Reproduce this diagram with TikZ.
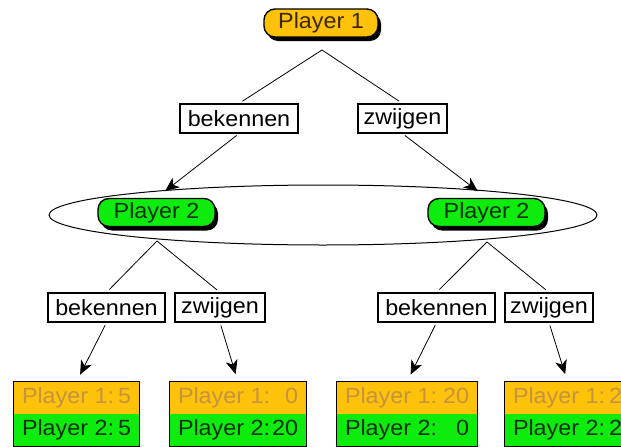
\documentclass[tikz,border=0pt]{standalone}
\usepackage{fontspec}
\setmainfont[FakeStretch=1.06]{Liberation Sans}
\usetikzlibrary{arrows.meta,shadows,shapes.geometric}

\definecolor{oneyellow}{RGB}{255,194,10}
\definecolor{twogreen}{RGB}{14,236,14}
\definecolor{onetext}{RGB}{60,40,0}
\definecolor{twotext}{RGB}{8,48,8}
\definecolor{payonetext}{RGB}{196,148,62}

% one line of a payoff box: label left, value flush right
\newcommand\payline[3]{\hbox to #1{#2\hfill #3}}

\begin{document}
\begin{tikzpicture}[x=1pt,y=-1pt,
  every node/.style={font=\fontsize{22}{25}\selectfont},
  player/.style={draw=black, line width=1.4pt, rounded corners=11pt,
    minimum height=28pt, inner sep=0pt,
    drop shadow={shadow xshift=3pt, shadow yshift=-4pt, fill=black, opacity=1}},
  firstplayer/.style={player, fill=oneyellow, text=onetext, minimum width=114pt},
  secondplayer/.style={player, fill=twogreen, text=twotext, minimum width=117pt},
  movebox/.style={draw=black, line width=1.2pt, fill=white,
    minimum height=29pt, inner sep=0pt},
  link/.style={line width=0.8pt},
  arrowlink/.style={link, -{Stealth[length=14pt,width=12pt,inset=4pt]}},
  payrow/.style={inner sep=0pt, minimum height=32pt},
  payone/.style={payrow, fill=oneyellow, text=payonetext},
  paytwo/.style={payrow, fill=twogreen, text=twotext},
  payframe/.style={draw=black, line width=1.2pt},
  infoset/.style={draw=black, line width=1pt, ellipse, inner sep=0pt}
]
\clip (0,0) rectangle (621,447);
\useasboundingbox (0,0) rectangle (621,447);

% information set of player 2
\node[infoset, minimum width=548pt, minimum height=60pt] (info) at (323,215) {};

% decision nodes
\node[firstplayer] (p1) at (321,23) {Player 1};
\node[secondplayer] (p2l) at (156.5,212.5) {Player 2};
\node[secondplayer] (p2r) at (486.5,212.5) {Player 2};

% moves of player 1
\node[movebox, minimum width=118pt] (m1b) at (239,118.5) {bekennen};
\node[movebox, minimum width=89pt]  (m1z) at (402.5,118.5) {zwijgen};

% moves of player 2
\node[movebox, minimum width=117pt] (mlb) at (106.5,307.5) {bekennen};
\node[movebox, minimum width=90pt]  (mlz) at (220,307.5) {zwijgen};
\node[movebox, minimum width=117pt] (mrb) at (436.5,307.5) {bekennen};
\node[movebox, minimum width=88pt]  (mrz) at (549,307.5) {zwijgen};

% payoffs
\node[payone, minimum width=125pt] (o1a) at (76.5,398) {\payline{109pt}{Player 1:}{5}};
\node[paytwo, minimum width=125pt] (o1b) at (76.5,430) {\payline{109pt}{Player 2:}{5}};
\node[payone, minimum width=136pt] (o2a) at (238,398) {\payline{120pt}{Player 1:}{0}};
\node[paytwo, minimum width=136pt] (o2b) at (238,430) {\payline{120pt}{Player 2:}{20}};
\node[payone, minimum width=140pt] (o3a) at (407,398) {\payline{124pt}{Player 1:}{20}};
\node[paytwo, minimum width=140pt] (o3b) at (407,430) {\payline{124pt}{Player 2:}{0}};
\node[payone, minimum width=125pt] (o4a) at (567.5,398) {\payline{109pt}{Player 1:}{2}};
\node[paytwo, minimum width=125pt] (o4b) at (567.5,430) {\payline{109pt}{Player 2:}{2}};
\draw[payframe] (o1a.north west) rectangle (o1b.south east);
\draw[payframe] (o2a.north west) rectangle (o2b.south east);
\draw[payframe] (o3a.north west) rectangle (o3b.south east);
\draw[payframe] (o4a.north west) rectangle (o4b.south east);

% branch origins below the decision nodes
\coordinate (p1s) at (322,50);
\coordinate (p2ls) at (157,241);
\coordinate (p2rs) at (487,242);

% connectors
\draw[link, shorten >=4pt] (p1s) -- (m1b.north);
\draw[link, shorten >=4pt] (p1s) -- (m1z.north);
\draw[arrowlink, shorten <=3pt, shorten >=11pt] (m1b.south) -- (p2l.north);
\draw[arrowlink, shorten <=3pt, shorten >=11pt] (m1z.south) -- (p2r.north);

\draw[link, shorten >=4pt] (p2ls) -- (mlb.north);
\draw[link, shorten >=4pt] (p2ls) -- (mlz.north);
\draw[link, shorten >=4pt] (p2rs) -- (mrb.north);
\draw[link, shorten >=4pt] (p2rs) -- (mrz.north);

\draw[arrowlink, shorten <=3pt, shorten >=8pt] (mlb.south) -- (o1a.north);
\draw[arrowlink, shorten <=3pt, shorten >=8pt] (mlz.south) -- (o2a.north);
\draw[arrowlink, shorten <=3pt, shorten >=8pt] (mrb.south) -- (o3a.north);
\draw[arrowlink, shorten <=3pt, shorten >=8pt] (mrz.south) -- (o4a.north);
\end{tikzpicture}
\end{document}
